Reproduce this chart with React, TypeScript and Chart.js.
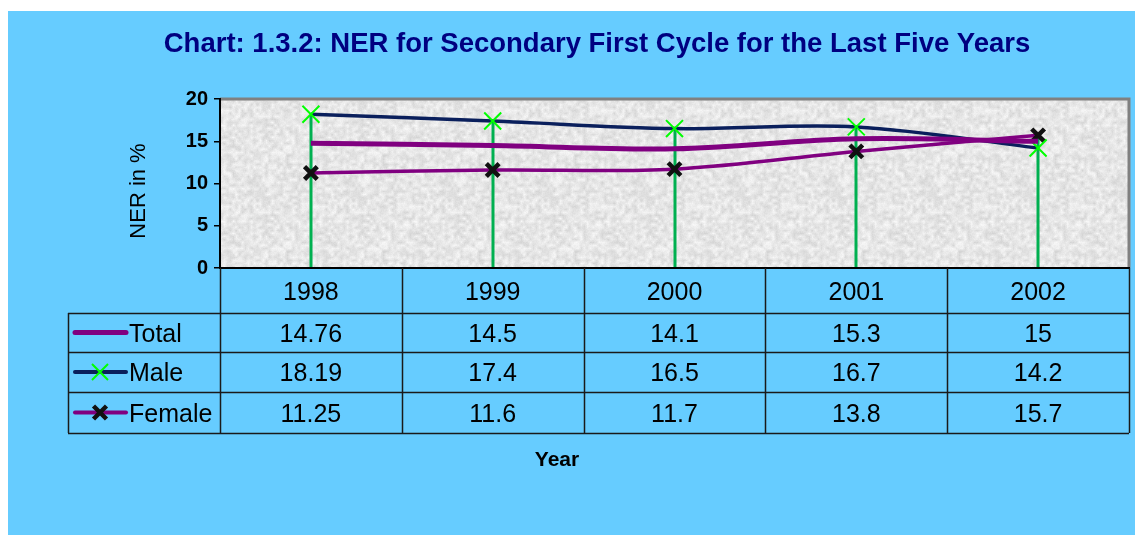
import React, { useEffect, useRef } from "react";
import { Chart, registerables } from "chart.js";

Chart.register(...registerables);

const chartTitle = "Chart: 1.3.2: NER for Secondary First Cycle for the Last Five Years";
const yAxisTitle = "NER in %";
const xAxisTitle = "Year";
const years = ["1998", "1999", "2000", "2001", "2002"];
const totalValues = [14.76, 14.5, 14.1, 15.3, 15];
const maleValues = [18.19, 17.4, 16.5, 16.7, 14.2];
const femaleValues = [11.25, 11.6, 11.7, 13.8, 15.7];
const seriesNames = ["Total", "Male", "Female"];
const yMin = 0;
const yMax = 20;
const yStep = 5;

const FONT = "'Liberation Sans', Arial, Helvetica, sans-serif";
const W = 1127;
const H = 524;
const PLOT_RIGHT = 1121;
const BG = "#66CCFF";
const PURPLE = "#800080";
const NAVY = "#0A1F5C";
const GREEN_MARK = "#00FF00";
const DROP_GREEN = "#00B050";

function makeTexture(ctx: CanvasRenderingContext2D) {
  const size = 96;
  const c = document.createElement("canvas");
  c.width = size;
  c.height = size;
  const g = c.getContext("2d")!;
  const img = g.createImageData(size, size);
  const cell = 3;
  const n = size / cell;
  const hash = (x: number, y: number) => {
    const xx = ((x % n) + n) % n;
    const yy = ((y % n) + n) % n;
    const s = Math.sin(xx * 127.1 + yy * 311.7) * 43758.5453;
    return s - Math.floor(s);
  };
  for (let y = 0; y < size; y++) {
    for (let x = 0; x < size; x++) {
      const gx = x / cell;
      const gy = y / cell;
      const x0 = Math.floor(gx), y0 = Math.floor(gy);
      const fx = gx - x0, fy = gy - y0;
      const a = hash(x0, y0), b = hash(x0 + 1, y0), c2 = hash(x0, y0 + 1), d = hash(x0 + 1, y0 + 1);
      const v = (a * (1 - fx) + b * fx) * (1 - fy) + (c2 * (1 - fx) + d * fx) * fy;
      const fine = hash(x * 7 + 3, y * 5 + 1);
      const gray = Math.round(214 + v * 32 + (fine - 0.5) * 8);
      const i = (y * size + x) * 4;
      img.data[i] = gray;
      img.data[i + 1] = gray;
      img.data[i + 2] = gray;
      img.data[i + 3] = 255;
    }
  }
  g.putImageData(img, 0, 0);
  return ctx.createPattern(c, "repeat")!;
}

function drawX(ctx: CanvasRenderingContext2D, x: number, y: number, half: number, color: string, width: number) {
  ctx.save();
  ctx.strokeStyle = color;
  ctx.lineWidth = width;
  ctx.beginPath();
  ctx.moveTo(x - half, y - half);
  ctx.lineTo(x + half, y + half);
  ctx.moveTo(x - half, y + half);
  ctx.lineTo(x + half, y - half);
  ctx.stroke();
  ctx.restore();
}

const decorPlugin = {
  id: "decor",
  beforeDraw(chart: any) {
    const { ctx, chartArea: a } = chart;
    ctx.save();
    ctx.fillStyle = BG;
    ctx.fillRect(0, 0, chart.width, chart.height);
    ctx.fillStyle = makeTexture(ctx);
    ctx.fillRect(a.left, a.top, a.right - a.left, a.bottom - a.top);
    ctx.restore();
  },
  beforeDatasetsDraw(chart: any) {
    const { ctx, scales } = chart;
    const x = scales.x;
    const y = scales.y;
    ctx.save();
    ctx.strokeStyle = DROP_GREEN;
    ctx.lineWidth = 3;
    years.forEach((_, i) => {
      const top = Math.max(totalValues[i], maleValues[i], femaleValues[i]);
      const px = Math.round(x.getPixelForValue(i));
      ctx.beginPath();
      ctx.moveTo(px, y.getPixelForValue(top));
      ctx.lineTo(px, y.getPixelForValue(yMin));
      ctx.stroke();
    });
    ctx.restore();
  },
  afterDraw(chart: any) {
    const { ctx, chartArea: a, scales } = chart;
    const xs = scales.x;
    ctx.save();

    ctx.strokeStyle = "#808080";
    ctx.lineWidth = 3;
    ctx.beginPath();
    ctx.moveTo(a.left, a.top);
    ctx.lineTo(a.right, a.top);
    ctx.lineTo(a.right, a.bottom);
    ctx.stroke();
    ctx.strokeStyle = "#000";
    ctx.lineWidth = 2;
    ctx.beginPath();
    ctx.moveTo(a.left, a.top - 1);
    ctx.lineTo(a.left, a.bottom);
    ctx.lineTo(a.right + 1, a.bottom);
    ctx.stroke();

    ctx.fillStyle = "#000080";
    ctx.font = `bold 27.5px ${FONT}`;
    ctx.textAlign = "center";
    ctx.textBaseline = "alphabetic";
    ctx.fillText(chartTitle, 589, 41);

    ctx.save();
    ctx.translate(131, 180);
    ctx.rotate(-Math.PI / 2);
    ctx.fillStyle = "#000";
    ctx.font = `22px ${FONT}`;
    ctx.textAlign = "center";
    ctx.textBaseline = "middle";
    ctx.fillText(yAxisTitle, 0, 0);
    ctx.restore();

    const colW = (a.right - a.left) / years.length;
    const headerTop = a.bottom;
    const rows = [a.bottom + 45, a.bottom + 84, a.bottom + 124, a.bottom + 165];
    const legendLeft = 60;
    ctx.strokeStyle = "#1a1a1a";
    ctx.lineWidth = 1.5;
    ctx.beginPath();
    for (let i = 0; i <= years.length; i++) {
      const bx = Math.round(a.left + i * colW) + 0.5;
      ctx.moveTo(bx, headerTop);
      ctx.lineTo(bx, rows[3]);
    }
    rows.forEach((ry) => {
      ctx.moveTo(legendLeft, ry + 0.5);
      ctx.lineTo(a.right, ry + 0.5);
    });
    ctx.moveTo(legendLeft + 0.5, rows[0]);
    ctx.lineTo(legendLeft + 0.5, rows[3]);
    ctx.stroke();

    ctx.fillStyle = "#000";
    ctx.font = `25px ${FONT}`;
    ctx.textAlign = "center";
    ctx.textBaseline = "alphabetic";
    const hc = (headerTop + rows[0]) / 2;
    years.forEach((yr, i) => {
      ctx.fillText(yr, xs.getPixelForValue(i), hc + 9);
    });
    const seriesValues = [totalValues, maleValues, femaleValues];
    seriesValues.forEach((vals, r) => {
      const rc = (rows[r] + rows[r + 1]) / 2;
      vals.forEach((v, i) => {
        ctx.fillText(String(v), xs.getPixelForValue(i), rc + 9);
      });
    });

    seriesNames.forEach((name, r) => {
      const rc = (rows[r] + rows[r + 1]) / 2;
      ctx.save();
      ctx.lineCap = "round";
      ctx.strokeStyle = r === 1 ? NAVY : PURPLE;
      ctx.lineWidth = r === 0 ? 5 : 4;
      ctx.beginPath();
      ctx.moveTo(67, rc);
      ctx.lineTo(118, rc);
      ctx.stroke();
      ctx.restore();
      if (r === 1) drawX(ctx, 92, rc, 8, GREEN_MARK, 2);
      if (r === 2) drawX(ctx, 92, rc, 6.5, "#111", 4.5);
      ctx.fillStyle = "#000";
      ctx.textAlign = "left";
      ctx.font = `25px ${FONT}`;
      ctx.fillText(name, 121, rc + 9);
    });

    ctx.font = `bold 21px ${FONT}`;
    ctx.textAlign = "center";
    ctx.fillText(xAxisTitle, 549, 455);
    ctx.restore();
  },
};

export default function App() {
  const ref = useRef<HTMLCanvasElement>(null);
  useEffect(() => {
    if (!ref.current) return;
    const chart = new Chart(ref.current, {
      type: "line",
      data: {
        labels: years,
        datasets: [
          { label: seriesNames[0], data: totalValues, borderColor: PURPLE, borderWidth: 5, pointRadius: 0, tension: 0.35 },
          {
            label: seriesNames[1], data: maleValues, borderColor: NAVY, borderWidth: 3.5,
            pointStyle: "crossRot", pointRadius: 12, pointBorderColor: GREEN_MARK, pointBorderWidth: 2, tension: 0.35,
          },
          {
            label: seriesNames[2], data: femaleValues, borderColor: PURPLE, borderWidth: 3.5,
            pointStyle: "crossRot", pointRadius: 9, pointBorderColor: "#111", pointBorderWidth: 4.5, tension: 0.35,
          },
        ],
      },
      options: {
        responsive: false,
        animation: false,
        devicePixelRatio: 1,
        layout: { padding: { left: 0, right: 0, top: 88, bottom: 267 } },
        plugins: { legend: { display: false }, tooltip: { enabled: false }, title: { display: false } },
        scales: {
          x: {
            offset: true,
            grid: { display: false, drawTicks: false },
            border: { display: false },
            ticks: { display: false },
            afterFit: (s: any) => {
              s.height = 0;
              s.paddingRight = 0;
              s.paddingLeft = 0;
            },
          },
          y: {
            min: yMin,
            max: yMax,
            grid: { drawOnChartArea: false, drawTicks: true, tickLength: 6, color: "#000", lineWidth: 1.5 },
            border: { display: false },
            ticks: { stepSize: yStep, padding: 6, color: "#000", font: { family: FONT, size: 20, weight: "bold" } },
            afterFit: (s: any) => { s.width = 212; },
          },
        },
      },
      plugins: [
        {
          id: "fitArea",
          afterLayout(chart: any) {
            // keep the plot area ending where the reference frame ends
            const a = chart.chartArea;
            if (a.right !== PLOT_RIGHT) {
              const xs = chart.scales.x;
              a.right = PLOT_RIGHT;
              a.width = a.right - a.left;
              xs.right = PLOT_RIGHT;
              xs.width = PLOT_RIGHT - xs.left;
              xs.configure();
            }
          },
        },
        decorPlugin,
      ],
    });
    return () => chart.destroy();
  }, []);
  return (
    <div style={{ position: "absolute", left: 8, top: 11, width: W, height: H, overflow: "hidden" }}>
      <canvas ref={ref} width={W} height={H} style={{ display: "block", width: W, height: H }} />
    </div>
  );
}
